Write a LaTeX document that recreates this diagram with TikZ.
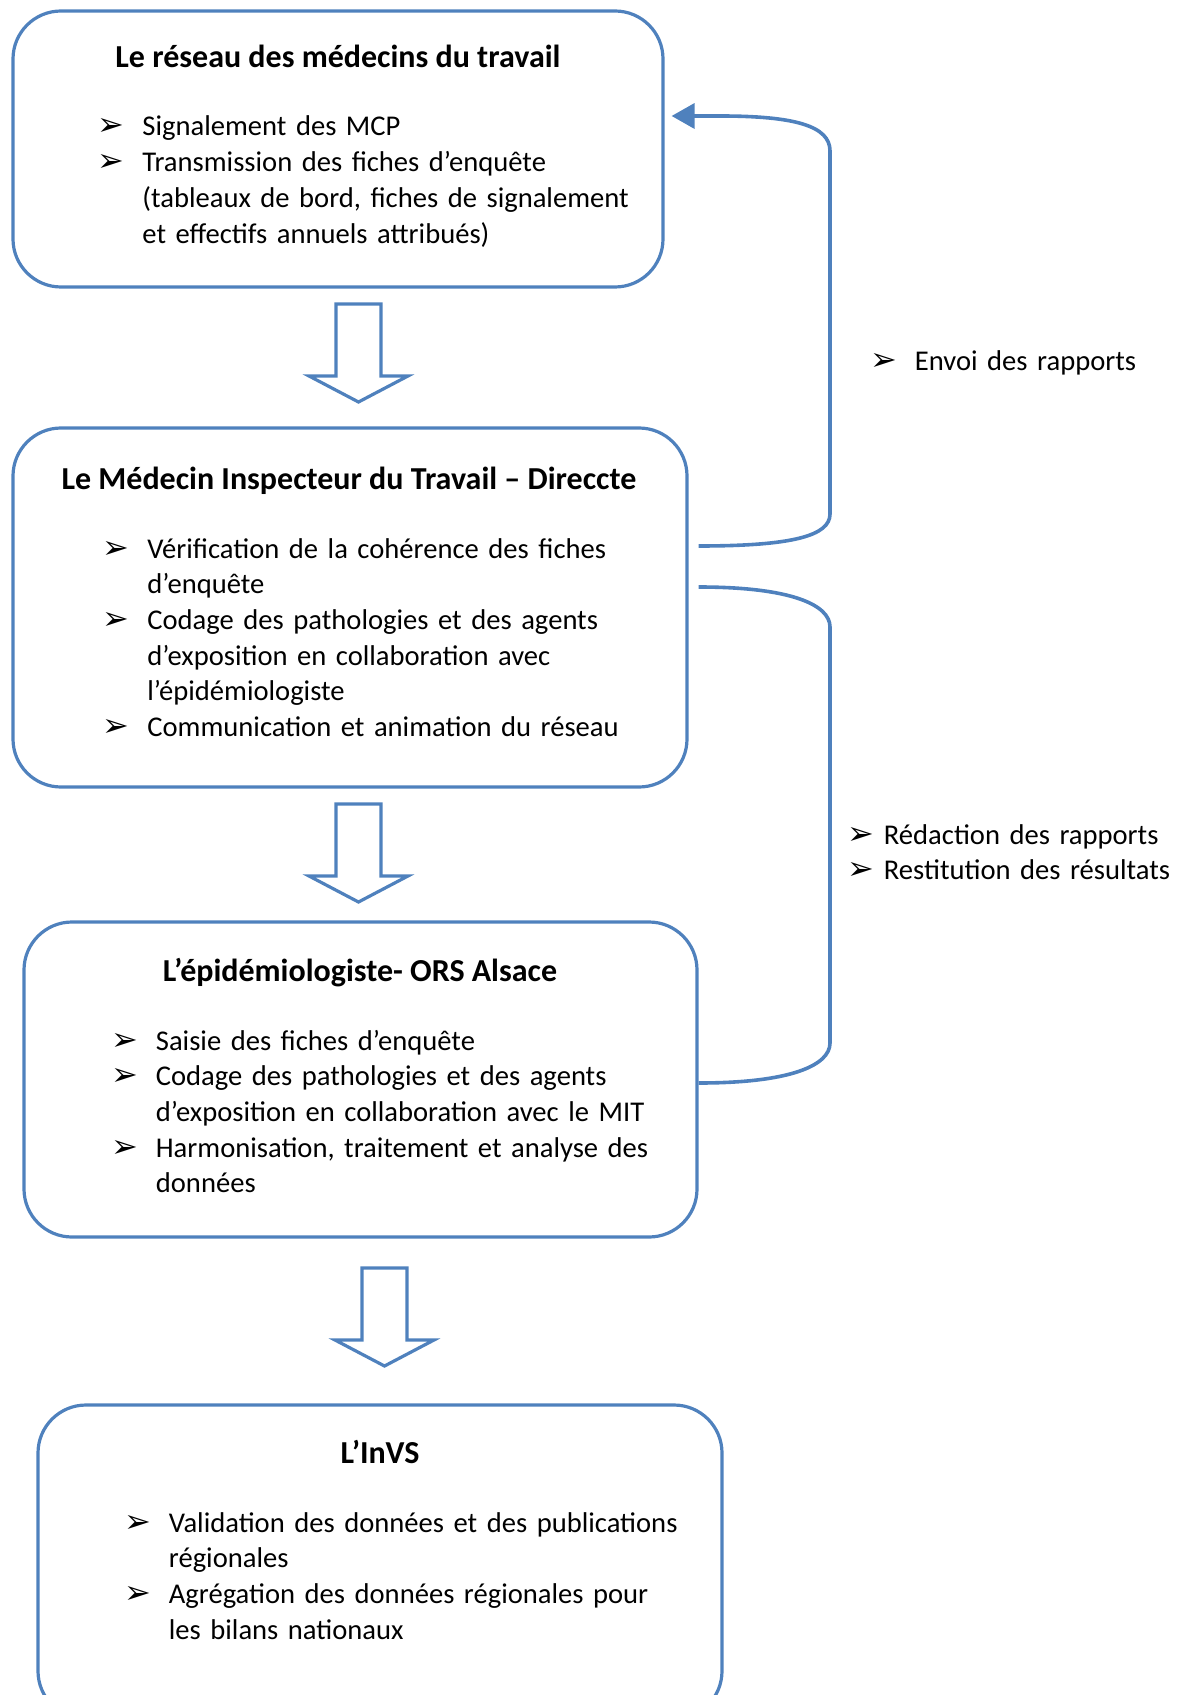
\documentclass[tikz,border=0pt]{standalone}
\usepackage{fontspec}
\setmainfont{Carlito}
\newfontfamily\dingfont{DejaVu Sans}
\usetikzlibrary{arrows.meta, calc}
\definecolor{bleu}{RGB}{79,129,189}
\newlength{\retrait}
\setlength{\retrait}{22.25pt}
\newcommand{\puce}[1]{\hangindent=\retrait\hangafter=1\noindent\makebox[\retrait][l]{{\fontsize{16pt}{16pt}\dingfont ➢}}#1\par}

\tikzset{
	bloc/.style={draw=bleu, line width=1.6pt, rounded corners=24pt},
	titre/.style={font=\bfseries\fontsize{16pt}{19pt}\selectfont, inner sep=0pt, anchor=base},
	liste/.style={font=\fontsize{14.3pt}{17.85pt}\selectfont, text width=330pt, align=left, inner sep=0pt, anchor=base west},
	lien/.style={draw=bleu, line width=1.8pt},
	fleche/.style={draw=bleu, line width=1.6pt, line join=miter},
}

\begin{document}
\begin{tikzpicture}[x=0.5pt, y=-0.5pt]
	\useasboundingbox (0,0) rectangle (1184,1695);
	\clip (0,0) rectangle (1184,1695);
	% les quatre cadres
	\node[bloc, minimum width=325pt, minimum height=138pt] (reseau) at (338,149) {};
	\node[bloc, minimum width=337pt, minimum height=179.5pt] (mit) at (350,607.5) {};
	\node[bloc, minimum width=336.5pt, minimum height=157.5pt] (epi) at (360.5,1079.5) {};
	\node[bloc, minimum width=342pt, minimum height=157pt] (invs) at (380,1562) {};
	% titres
	\node[titre] (titreReseau) at (338,68) {Le réseau des médecins du travail};
	\node[titre] (titreMit) at (349,489) {Le Médecin Inspecteur du Travail – Direccte};
	\node[titre] (titreEpi) at (360,981) {L’épidémiologiste- ORS Alsace};
	\node[titre] (titreInvs) at (380,1463) {L’InVS};
	% listes
	\node[liste] (listeReseau) at (97.5,136) {\puce{Signalement des MCP}\puce{Transmission des fiches d’enquête\newline (tableaux de bord, fiches de signalement\newline et effectifs annuels attribués)}};
	\node[liste] (listeMit) at (102.5,558) {\puce{Vérification de la cohérence des fiches\newline d’enquête}\puce{Codage des pathologies et des agents\newline d’exposition en collaboration avec\newline l’épidémiologiste}\puce{Communication et animation du réseau}};
	\node[liste] (listeEpi) at (111,1050) {\puce{Saisie des fiches d’enquête}\puce{Codage des pathologies et des agents\newline d’exposition en collaboration avec le MIT}\puce{Harmonisation, traitement et analyse des\newline données}};
	\node[liste] (listeInvs) at (124,1532) {\puce{Validation des données et des publications\newline régionales}\puce{Agrégation des données régionales pour\newline les bilans nationaux}};
	% fleches creuses
	\draw[fleche] (336,304) -- (381,304) -- (381,376) -- (408,376) -- (358.5,402) -- (309,376) -- (336,376) -- cycle;
	\draw[fleche] (336,804) -- (381,804) -- (381,876) -- (408,876) -- (358.5,902) -- (309,876) -- (336,876) -- cycle;
	\draw[fleche] (362,1268) -- (407,1268) -- (407,1340) -- (434,1340) -- (384.5,1366) -- (335,1340) -- (362,1340) -- cycle;
	% retours
	\draw[lien, -{Triangle[length=11.5pt, width=12.5pt]}] ($(mit.east |- 0,546)+(10,0)$) .. controls +(93,0) and +(0,22) .. (830,514) -- (830,151) .. controls +(0,-25) and +(75,0) .. (720,116) -- ($(reseau.east |- 0,116)+(7,0)$);
	\draw[lien] ($(mit.east |- 0,587)+(10,0)$) .. controls +(93,0) and +(0,-22) .. (830,627) -- (830,1043) .. controls +(0,22) and +(93,0) .. (epi.east |- 0,1083);
	\node[liste, text width=200pt] (envoi) at (870,371) {\puce{Envoi des rapports}};
	\node[liste, text width=210pt] (redaction) at (847,844) {\setlength{\retrait}{18.25pt}\puce{Rédaction des rapports}\puce{Restitution des résultats}};
\end{tikzpicture}
\end{document}
